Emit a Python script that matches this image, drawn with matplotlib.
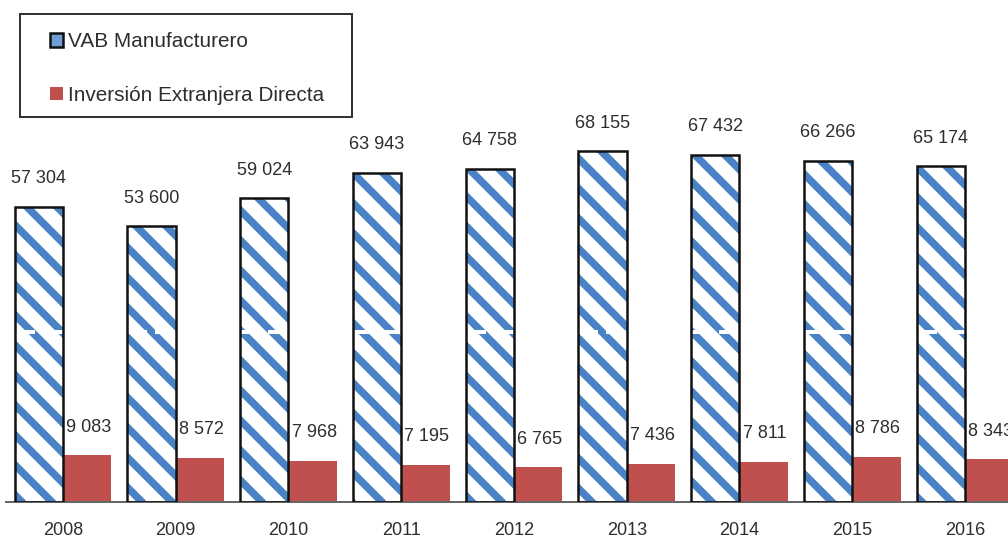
import matplotlib
matplotlib.use("Agg")
import matplotlib.pyplot as plt
from matplotlib.patches import Patch, Rectangle
from matplotlib import font_manager

years = ["2008", "2009", "2010", "2011", "2012", "2013", "2014", "2015", "2016"]
vab = [57304, 53600, 59024, 63943, 64758, 68155, 67432, 66266, 65174]
ied = [9083, 8572, 7968, 7195, 6765, 7436, 7811, 8786, 8343]
series_names = ["VAB Manufacturero", "Inversión Extranjera Directa"]

names = {f.name for f in font_manager.fontManager.ttflist}
fam = "Liberation Sans Narrow" if "Liberation Sans Narrow" in names else "Liberation Sans"
plt.rcParams["font.family"] = [fam, "DejaVu Sans"]
plt.rcParams["hatch.linewidth"] = 3.0

DPI = 180
W, H = 1009, 541
fig = plt.figure(figsize=(W / DPI, H / DPI), dpi=DPI)
ax = fig.add_axes([0, 39 / H, 1, 502 / H])

blue = "#4a82c6"
red = "#c0504d"
txt = "#2e2e2e"
w = 0.43
x = list(range(len(years)))

xb = [i - w / 2 for i in x]
xr = [i + w / 2 for i in x]

ax.bar(xb, vab, width=w, color="white", edgecolor=blue, hatch="\\\\", linewidth=0, zorder=2)
ax.bar(xb, vab, width=w, fill=False, edgecolor="#111111", linewidth=1.0, zorder=3)
ax.bar(xr, ied, width=w, color=red, linewidth=0, zorder=2)

# break marker
ax.hlines([33000] * len(x), [v - w / 2 for v in xb], [v + w / 2 for v in xb],
          colors="white", linewidth=1.6, linestyles=(0, (5, 2)), zorder=2.5)

def fmt(v):
    return f"{v:,}".replace(",", " ")

for xi, v in zip(xb, vab):
    ax.annotate(fmt(v), (xi, v), xytext=(0, 11.2), textcoords="offset points",
                ha="center", va="center", fontsize=7.2, color=txt)
for xi, v in zip(xr, ied):
    ax.annotate(fmt(v), (xi, v), xytext=(0.6, 11.2), textcoords="offset points",
                ha="center", va="center", fontsize=7.2, color=txt)

ax.set_xlim(-63 / 112.75, (W - 63) / 112.75)
ax.set_ylim(0, 97500)
ax.set_xticks(x)
ax.set_xticklabels(years, fontsize=7.2, color=txt)
ax.tick_params(axis="x", length=0, pad=8)
ax.set_yticks([])
for s in ["top", "right", "left"]:
    ax.spines[s].set_visible(False)
ax.spines["bottom"].set_color("#666666")
ax.spines["bottom"].set_linewidth(0.8)
ax.spines["bottom"].set_bounds(-63 / 112.75 + 6 / 112.75, (W - 63) / 112.75)
ax.patch.set_alpha(0)

handles = [Patch(facecolor="#6f9fd6", edgecolor="#111111", linewidth=1.0),
           Patch(facecolor=red, edgecolor="none")]
leg = fig.legend(handles, series_names, loc="upper left",
                 bbox_to_anchor=(50 / W, 1 - 32 / H), bbox_transform=fig.transFigure,
                 frameon=False, fontsize=8.3, handlelength=0.65, handleheight=0.65,
                 handletextpad=0.2, labelspacing=1.68, borderpad=0, borderaxespad=0)
for t in leg.get_texts():
    t.set_color(txt)

fig.patches.append(Rectangle((20 / W, 1 - 117 / H), 332 / W, 103 / H,
                             transform=fig.transFigure, fill=False,
                             edgecolor="#333333", linewidth=0.8))

fig.savefig("out.png", dpi=DPI)
